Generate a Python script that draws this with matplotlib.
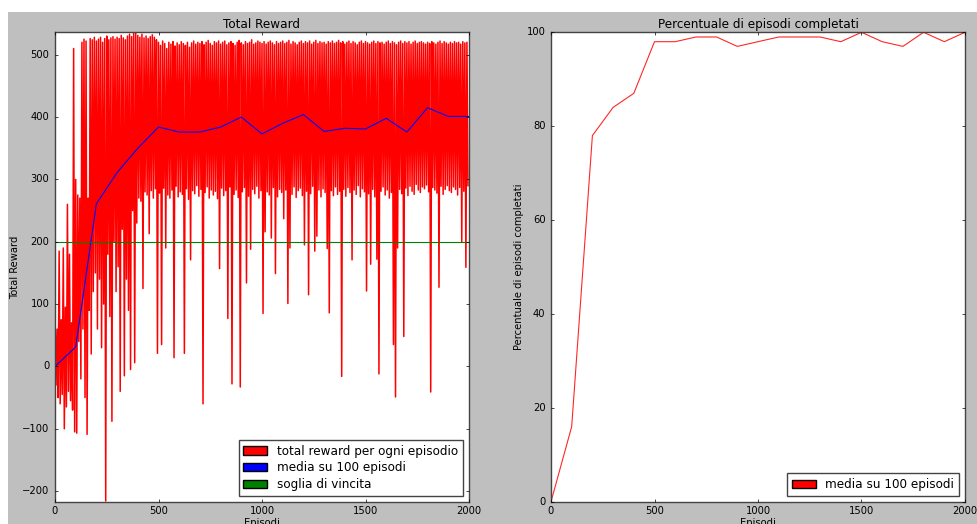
import numpy as np
import matplotlib
matplotlib.use("Agg")
import matplotlib.pyplot as plt
import matplotlib.patches as mpatches

# reward: un valore alto (episodi 0,10,20,...) e uno basso (5,15,25,...)
reward_alto = [
    90, 60, 185, 75, 190, 95, 260, 180, 70, 510,
    300, 275, 270, 520, 525, 522, 270, 526, 524, 528,
    522, 525, 528, 520, 526, 530, 524, 527, 529, 525,
    528, 526, 531, 527, 524, 530, 533, 529, 535, 536,
    531, 528, 533, 527, 530, 526, 529, 532, 528, 524,
    520, 515, 522, 518, 510, 520, 517, 521, 514, 519,
    516, 521, 518, 515, 520, 512, 519, 522, 517, 520,
    518, 521, 516, 520, 523, 518, 515, 521, 519, 522,
    517, 520, 522, 516, 519, 521, 518, 515, 520, 523,
    519, 516, 521, 518, 520, 524, 517, 519, 522, 520,
    518, 521, 517, 520, 522, 519, 516, 521, 518, 520,
    522, 518, 520, 523, 517, 521, 519, 516, 520, 522,
    518, 521, 519, 522, 517, 520, 523, 518, 521, 519,
    520, 517, 521, 519, 522, 518, 520, 523, 519, 521,
    517, 520, 522, 518, 521, 519, 516, 520, 522, 518,
    521, 519, 517, 520, 522, 518, 521, 519, 520, 517,
    520, 522, 518, 521, 519, 516, 520, 522, 518, 521,
    519, 521, 517, 520, 522, 518, 520, 521, 519, 517,
    520, 518, 521, 519, 517, 520, 522, 518, 521, 519,
    517, 520, 518, 521, 519, 520, 517, 521, 519, 520,
]
reward_basso = [
    -30, -50, -60, -45, -100, -65, -40, -55, -70, -105,
    -107, 40, -20, 60, -50, -109, 90, 20, 120, 150,
    60, 140, 30, 100, -216, 180, 80, -88, 200, 120,
    160, -40, 220, -15, 140, 90, -5, 250, 6, 230,
    270, 265, 125, 280, 275, 213, 282, 270, 285, 21,
    278, 35, 286, 190, 275, 270, 283, 14, 289, 272,
    280, 276, 21, 285, 268, 171, 282, 277, 290, 273,
    284, -60, 279, 288, 270, 283, 275, 281, 269, 157,
    286, 274, 282, 77, 288, -28, 276, 283, 271, -33,
    280, 287, 134, 273, 188, 284, 277, 289, 270, 282,
    85, 216, 280, 275, 206, 287, 149, 272, 284, 279,
    237, 283, 101, 190, 276, 288, 271, 282, 286, 274,
    195, 281, 115, 277, 289, 185, 209, 283, 272, 285,
    279, 189, 86, 282, 274, 288, 276, 281, -16, 284,
    273, 287, 279, 171, 283, 276, 290, 272, 285, 280,
    121, 277, 164, 284, 272, 172, -12, 281, 288, 275,
    283, 270, 279, 35, -49, 190, 284, 277, 48, 286,
    274, 289, 281, 276, 292, 283, 279, 288, 285, 291,
    280, -41, 287, 283, 278, 127, 289, 276, 284, 290,
    282, 279, 288, 284, 275, 287, 200, 281, 159, 290,
]

episodi_media = list(range(0, 2001, 100))
media_reward = [0, 31, 261, 311, 350, 384, 376, 376, 384, 400, 373,
                390, 404, 377, 382, 381, 398, 376, 415, 401, 401]
perc_completati = [0, 16, 78, 84, 87, 98, 98, 99, 99, 97, 98,
                   99, 99, 99, 98, 100, 98, 97, 100, 98, 100]
soglia = 200

plt.style.use("classic")
plt.rcParams["font.size"] = 7.2
plt.rcParams["xtick.major.size"] = 2.5
plt.rcParams["ytick.major.size"] = 2.5
plt.rcParams["xtick.minor.size"] = 0
plt.rcParams["ytick.minor.size"] = 0
plt.rcParams["xtick.major.pad"] = 3
plt.rcParams["axes.labelpad"] = 1.5
plt.rcParams["axes.titlepad"] = 3
plt.rcParams["legend.labelspacing"] = 0.3
plt.rcParams["axes.edgecolor"] = "#444444"

episodi = np.arange(0, 2000, 5)
reward = np.empty(len(episodi))
reward[0::2] = reward_alto
reward[1::2] = reward_basso

fig = plt.figure(figsize=(9.78, 5.24), dpi=100, facecolor="white")
fig.patches.append(mpatches.Rectangle((8 / 978, 0), 1, 512 / 524, transform=fig.transFigure,
                                      facecolor="#bfbfbf", edgecolor="none", zorder=-1))

ax1 = fig.add_axes([55 / 978, 22.3 / 524, 414 / 978, 469.4 / 524])
ax1.plot(episodi, reward, color="red", lw=1.1)
ax1.plot(episodi_media, media_reward, color="blue", lw=0.8)
ax1.axhline(soglia, color="green", lw=0.8)
ax1.set_xlim(0, 2000)
ax1.set_ylim(-217, 536)
ax1.set_xticks(range(0, 2001, 500))
ax1.set_yticks(range(-200, 501, 100))
ax1.set_title("Total Reward")
ax1.set_xlabel("Episodi")
ax1.set_ylabel("Total Reward")
h1 = [mpatches.Patch(facecolor="red", edgecolor="black", label="total reward per ogni episodio"),
      mpatches.Patch(facecolor="blue", edgecolor="black", label="media su 100 episodi"),
      mpatches.Patch(facecolor="green", edgecolor="black", label="soglia di vincita")]
ax1.legend(handles=h1, loc="lower right")

ax2 = fig.add_axes([551 / 978, 22.3 / 524, 414 / 978, 469.4 / 524])
ax2.plot(episodi_media, perc_completati, color="red", lw=0.8, alpha=0.85)
ax2.set_xlim(0, 2000)
ax2.set_ylim(0, 100)
ax2.set_xticks(range(0, 2001, 500))
ax2.set_title("Percentuale di episodi completati")
ax2.set_xlabel("Episodi")
ax2.set_ylabel("Percentuale di episodi completati")
h2 = [mpatches.Patch(facecolor="red", edgecolor="black", label="media su 100 episodi")]
ax2.legend(handles=h2, loc="lower right")

fig.savefig("out.png", dpi=100, facecolor=fig.get_facecolor())
